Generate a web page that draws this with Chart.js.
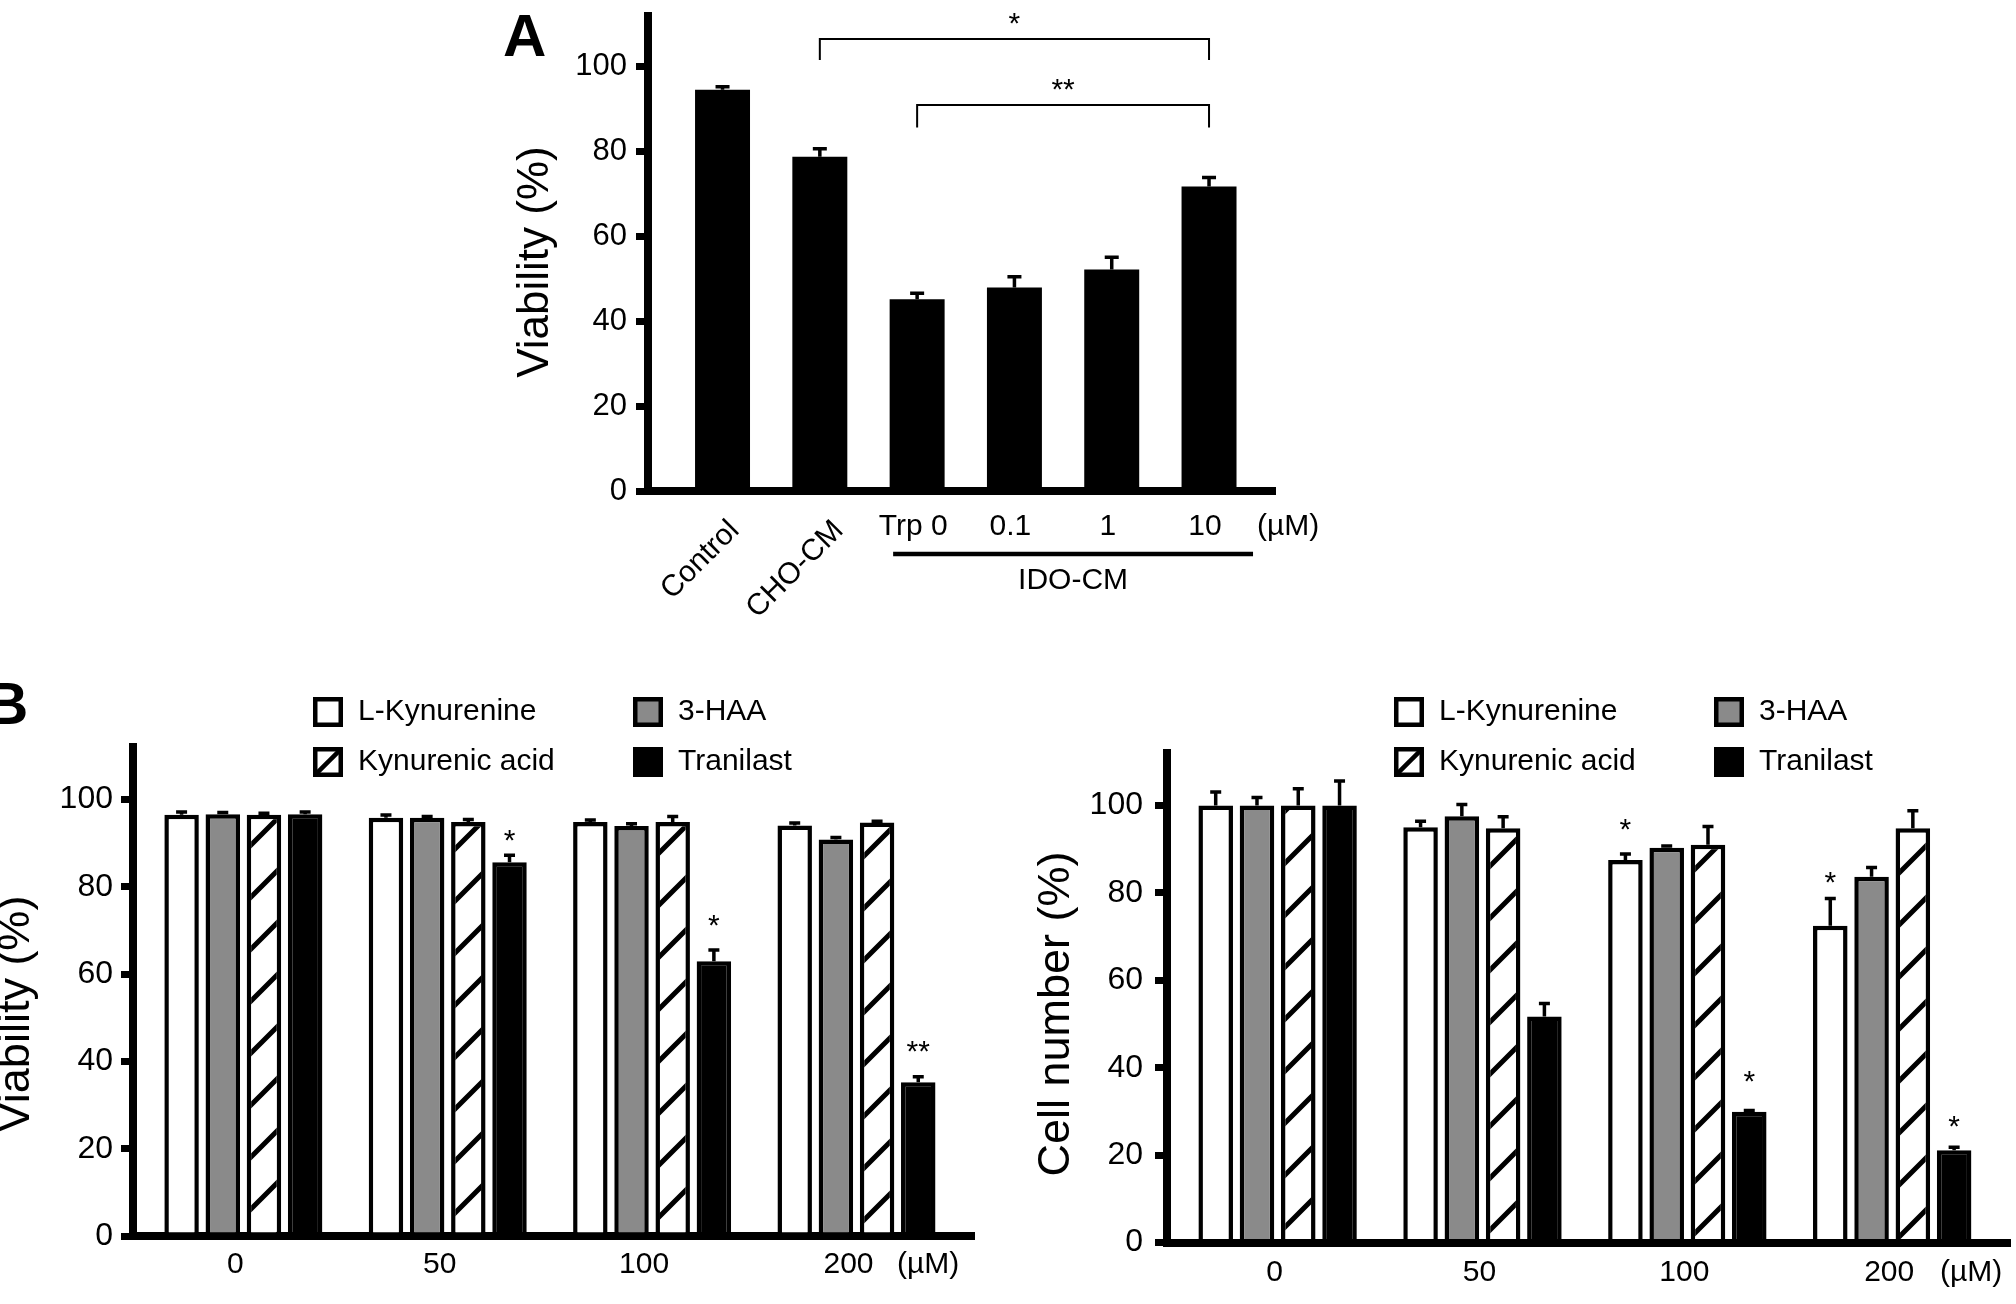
<!DOCTYPE html>
<html>
<head>
<meta charset="utf-8">
<script src="https://cdn.jsdelivr.net/npm/chart.js@4.4.1/dist/chart.umd.min.js"></script>
<style>
  html, body { margin: 0; padding: 0; background: #fff; }
  body { width: 2016px; height: 1304px; position: relative; overflow: hidden; }
  canvas { position: absolute; }
</style>
</head>
<body>
<canvas id="chartA" width="850" height="640" style="left:500px;top:0px"></canvas>
<canvas id="chartB1" width="1000" height="624" style="left:0px;top:680px"></canvas>
<canvas id="chartB2" width="1016" height="624" style="left:1000px;top:680px"></canvas>
<script>
// ---- Panel A data ----
const aLabels = ['Control', 'CHO-CM', 'Trp 0', '0.1', '1', '10'];
const aValues = [94.6, 78.8, 45.2, 48.0, 52.2, 71.8];
const aErrors = [0.7, 1.9, 1.4, 2.5, 2.9, 2.1];
const aTicks = [0, 20, 40, 60, 80, 100];
// significance brackets (bar indexes and levels in % units)
const aBrackets = [
  { from: 1, to: 5, top: 106.6, leg: 101.6, star: 112.0, text: '*' },
  { from: 2, to: 5, top: 91.0, leg: 85.7, star: 96.5, text: '**' }
];

// ---- Panel B data ----
const bGroups = ['0', '50', '100', '200'];
const bSeries = ['L-Kynurenine', '3-HAA', 'Kynurenic acid', 'Tranilast'];
const bTicks = [0, 20, 40, 60, 80, 100];

// viability (%)
const viabLKyn = [96.5, 95.8, 94.8, 94.0];
const viabHAA  = [96.6, 95.8, 93.9, 90.8];
const viabKYNA = [96.5, 94.8, 94.8, 94.7];
const viabTran = [96.6, 85.6, 62.9, 35.2];
const viabLKynErr = [0.6, 0.6, 0.5, 0.6];
const viabHAAErr  = [0.4, 0.3, 0.5, 0.5];
const viabKYNAErr = [0.3, 0.6, 1.3, 0.3];
const viabTranErr = [0.5, 1.6, 2.6, 1.3];
const viabStars = [
  { series: 3, group: 1, y: 92.4, text: '*' },
  { series: 3, group: 2, y: 72.9, text: '*' },
  { series: 3, group: 3, y: 43.9, text: '**' }
];

// cell number (%)
const cellLKyn = [100, 95.0, 87.5, 72.5];
const cellHAA  = [100, 97.5, 90.3, 83.7];
const cellKYNA = [100, 94.8, 91.0, 94.8];
const cellTran = [100, 51.7, 29.9, 21.1];
const cellLKynErr = [3.1, 1.4, 1.4, 6.2];
const cellHAAErr  = [1.8, 2.7, 0.4, 2.1];
const cellKYNAErr = [3.8, 2.6, 4.2, 4.0];
const cellTranErr = [5.6, 3.0, 0.3, 0.7];
const cellStars = [
  { series: 0, group: 2, y: 96.2, text: '*' },
  { series: 3, group: 2, y: 38.5, text: '*' },
  { series: 0, group: 3, y: 84.1, text: '*' },
  { series: 3, group: 3, y: 28.2, text: '*' }
];

// ---- styles ----
const FONT = "'Liberation Sans', Arial, Helvetica, sans-serif";
const GRAY = '#8a8a8a';
Chart.defaults.font.family = FONT;
Chart.defaults.color = '#000';

// diagonal hatch used by Kynurenic acid bars
function makeHatch() {
  const c = document.createElement('canvas');
  c.width = 52; c.height = 52;
  const g = c.getContext('2d');
  g.fillStyle = '#fff';
  g.fillRect(0, 0, 52, 52);
  g.strokeStyle = '#000';
  g.lineWidth = 5;
  g.beginPath();
  [0, 52, 104].forEach(k => { g.moveTo(k - 70, 70); g.lineTo(70, k - 70); });
  g.stroke();
  return g.createPattern(c, 'repeat');
}
const hatch = makeHatch();
const seriesFill = ['#ffffff', GRAY, hatch, '#000000'];

function drawErrorBars(chart, capHalf, lw) {
  const ctx = chart.ctx, ys = chart.scales.y;
  ctx.strokeStyle = '#000';
  ctx.lineWidth = lw;
  ctx.lineCap = 'butt';
  chart.data.datasets.forEach((ds, di) => {
    chart.getDatasetMeta(di).data.forEach((bar, i) => {
      const top = ys.getPixelForValue(ds.data[i].y + ds.errors[i]);
      ctx.beginPath();
      ctx.moveTo(bar.x, bar.y);
      ctx.lineTo(bar.x, top);
      ctx.moveTo(bar.x - capHalf, top);
      ctx.lineTo(bar.x + capHalf, top);
      ctx.stroke();
    });
  });
}

function drawStar(ctx, text, x, y) {
  ctx.font = '30px ' + FONT;
  ctx.fillStyle = '#000';
  ctx.textAlign = 'center';
  ctx.textBaseline = 'alphabetic';
  ctx.fillText(text, x, y + 17);
}

function drawYTitle(ctx, text, x, y, size) {
  ctx.save();
  ctx.translate(x, y);
  ctx.rotate(-Math.PI / 2);
  ctx.font = size + 'px ' + FONT;
  ctx.fillStyle = '#000';
  ctx.textAlign = 'center';
  ctx.textBaseline = 'middle';
  ctx.fillText(text, 0, 0);
  ctx.restore();
}

function drawLetter(ctx, letter, x, baseline) {
  ctx.font = 'bold 60px ' + FONT;
  ctx.fillStyle = '#000';
  ctx.textAlign = 'left';
  ctx.textBaseline = 'alphabetic';
  ctx.fillText(letter, x, baseline);
}

function drawLegend(ctx, x0, y0) {
  const box = 30, colGap = 320, rowGap = 50;
  // column-major: L-Kyn, Kynurenic acid | 3-HAA, Tranilast
  const order = [0, 2, 1, 3];
  order.forEach((s, k) => {
    const x = x0 + Math.floor(k / 2) * colGap;
    const y = y0 + (k % 2) * rowGap;
    ctx.save();
    ctx.fillStyle = seriesFill[s] === hatch ? '#fff' : seriesFill[s];
    ctx.fillRect(x, y, box, box);
    if (seriesFill[s] === hatch) {
      ctx.beginPath();
      ctx.rect(x, y, box, box);
      ctx.clip();
      ctx.strokeStyle = '#000';
      ctx.lineWidth = 4.5;
      ctx.beginPath();
      ctx.moveTo(x, y + box);
      ctx.lineTo(x + box, y);
      ctx.stroke();
    }
    ctx.restore();
    ctx.strokeStyle = '#000';
    ctx.lineWidth = 4.5;
    ctx.strokeRect(x + 2.25, y + 2.25, box - 4.5, box - 4.5);
    ctx.font = '30px ' + FONT;
    ctx.fillStyle = '#000';
    ctx.textAlign = 'left';
    ctx.textBaseline = 'middle';
    ctx.fillText(bSeries[s], x + 45, y + box / 2);
  });
}

function yScale(ticks, fontSize, pad, width) {
  return {
    type: 'linear',
    min: 0,
    max: 112,
    afterBuildTicks: s => { s.ticks = ticks.map(v => ({ value: v })); },
    afterFit: s => { s.width = width; s.paddingTop = 0; s.paddingBottom = 0; },
    ticks: { font: { size: fontSize }, color: '#000', padding: pad },
    grid: { display: true, drawOnChartArea: false, drawTicks: true, tickLength: 12, lineWidth: 7, tickWidth: 7, color: '#000', tickColor: '#000' },
    border: { display: true, width: 8, color: '#000' }
  };
}

function xScale(min, max, count, height) {
  return {
    type: 'linear',
    min: min,
    max: max,
    offset: false,
    afterBuildTicks: s => { s.ticks = Array.from({ length: count }, (_, i) => ({ value: i })); },
    afterFit: s => { s.height = height; s.paddingLeft = 0; s.paddingRight = 0; },
    ticks: { display: false },
    grid: { display: false, offset: false },
    border: { display: true, width: 8, color: '#000' }
  };
}

// ---- Panel A ----
const panelAPlugin = {
  id: 'panelA',
  afterDatasetsDraw(chart) {
    const ctx = chart.ctx, xs = chart.scales.x, ys = chart.scales.y;
    ctx.save();
    drawErrorBars(chart, 7, 3.5);
    ctx.strokeStyle = '#000';
    ctx.lineWidth = 2;
    aBrackets.forEach(b => {
      const x1 = xs.getPixelForValue(b.from), x2 = xs.getPixelForValue(b.to);
      const yt = ys.getPixelForValue(b.top), yl = ys.getPixelForValue(b.leg);
      ctx.beginPath();
      ctx.moveTo(x1, yl); ctx.lineTo(x1, yt); ctx.lineTo(x2, yt); ctx.lineTo(x2, yl);
      ctx.stroke();
      drawStar(ctx, b.text, (x1 + x2) / 2, ys.getPixelForValue(b.star));
    });

    // category labels
    ctx.font = '30px ' + FONT;
    ctx.fillStyle = '#000';
    aLabels.forEach((lab, i) => {
      const x = xs.getPixelForValue(i);
      if (i < 2) {
        ctx.save();
        ctx.translate(x + 12 + 7 * i, 526);
        ctx.rotate(-Math.PI / 4);
        ctx.textAlign = 'right';
        ctx.textBaseline = 'middle';
        ctx.fillText(lab, 0, 0);
        ctx.restore();
      } else {
        ctx.textAlign = 'center';
        ctx.textBaseline = 'middle';
        ctx.fillText(lab, x - 4, 527);
      }
    });
    ctx.textAlign = 'left';
    ctx.fillText('(µM)', xs.getPixelForValue(5) + 48, 527);

    // IDO-CM group line
    const gx1 = xs.getPixelForValue(2) - 24, gx2 = xs.getPixelForValue(5) + 44;
    ctx.lineWidth = 4.5;
    ctx.beginPath();
    ctx.moveTo(gx1, 554); ctx.lineTo(gx2, 554);
    ctx.stroke();
    ctx.textAlign = 'center';
    ctx.fillText('IDO-CM', (gx1 + gx2) / 2, 581);

    drawYTitle(ctx, 'Viability (%)', 36, 262, 44);
    drawLetter(ctx, 'A', 3, 56);
    ctx.restore();
  }
};

new Chart(document.getElementById('chartA'), {
  type: 'bar',
  data: {
    datasets: [{
      data: aValues.map((v, i) => ({ x: i, y: v })),
      errors: aErrors,
      backgroundColor: '#000',
      borderWidth: 0,
      categoryPercentage: 1,
      barPercentage: 0.565
    }]
  },
  options: {
    responsive: false,
    animation: false,
    events: [],
    layout: { autoPadding: false, padding: { left: 0, top: 16, right: 75, bottom: 0 } },
    plugins: { legend: { display: false }, tooltip: { enabled: false } },
    scales: {
      x: xScale(-0.766, 5.678, aLabels.length, 149),
      y: yScale(aTicks, 31, 9, 148)
    }
  },
  plugins: [panelAPlugin]
});

// ---- Panel B ----
function bDatasets(values, errors) {
  return bSeries.map((name, s) => ({
    label: name,
    data: values[s].map((v, g) => ({ x: g, y: v })),
    errors: errors[s],
    backgroundColor: seriesFill[s],
    borderColor: '#000',
    borderWidth: 4.5,
    borderSkipped: 'start',
    categoryPercentage: 0.806,
    barPercentage: 0.837
  }));
}

function panelBPlugin(o) {
  return {
    id: 'panelB' + o.key,
    afterDatasetsDraw(chart) {
      const ctx = chart.ctx, xs = chart.scales.x, ys = chart.scales.y;
      ctx.save();
      drawErrorBars(chart, 5.5, 3.5);
      o.stars.forEach(st => {
        const bar = chart.getDatasetMeta(st.series).data[st.group];
        drawStar(ctx, st.text, bar.x, ys.getPixelForValue(st.y));
      });
      ctx.font = '30px ' + FONT;
      ctx.fillStyle = '#000';
      ctx.textAlign = 'center';
      ctx.textBaseline = 'middle';
      bGroups.forEach((g, i) => ctx.fillText(g, xs.getPixelForValue(i) + o.labelDx, o.labelY));
      ctx.textAlign = 'left';
      ctx.fillText('(µM)', o.unitX, o.labelY);
      drawYTitle(ctx, o.title, o.titleX, 334, 45);
      drawLegend(ctx, o.legendX, 17);
      if (o.letter) drawLetter(ctx, o.letter, -15, 44);
      ctx.restore();
    }
  };
}

function makeB(id, values, errors, o) {
  new Chart(document.getElementById(id), {
    type: 'bar',
    data: { datasets: bDatasets(values, errors) },
    options: {
      responsive: false,
      animation: false,
      events: [],
      layout: { autoPadding: false, padding: { left: 0, top: o.top, right: o.right, bottom: 0 } },
      plugins: { legend: { display: false }, tooltip: { enabled: false } },
      scales: {
        x: xScale(-0.54, 3.575, bGroups.length, o.xHeight),
        y: yScale(bTicks, 32, o.tickPad, o.yWidth)
      }
    },
    plugins: [panelBPlugin(o)]
  });
}

makeB('chartB1',
  [viabLKyn, viabHAA, viabKYNA, viabTran],
  [viabLKynErr, viabHAAErr, viabKYNAErr, viabTranErr],
  { key: 'left', top: 67, right: 26, xHeight: 68, yWidth: 133, tickPad: 8,
    stars: viabStars, labelY: 585, labelDx: -8, unitX: 897, title: 'Viability (%)', titleX: 17,
    legendX: 313, letter: 'B' });

makeB('chartB2',
  [cellLKyn, cellHAA, cellKYNA, cellTran],
  [cellLKynErr, cellHAAErr, cellKYNAErr, cellTranErr],
  { key: 'right', top: 73, right: 6, xHeight: 61.5, yWidth: 167, tickPad: 12,
    stars: cellStars, labelY: 593, labelDx: -3, unitX: 940, title: 'Cell number (%)', titleX: 57,
    legendX: 394, letter: null });
</script>
</body>
</html>
